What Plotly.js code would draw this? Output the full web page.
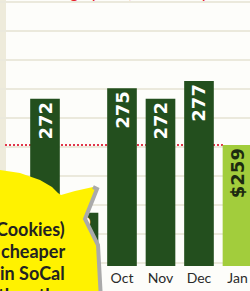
<!DOCTYPE html>
<html><head><meta charset="utf-8">
<script src="https://cdn.plot.ly/plotly-3.0.1.min.js"></script>
<style>html,body{margin:0;padding:0;background:#fdfdfa;}#chart{width:250px;height:291px;}</style>
</head><body><div id="chart"></div>
<script>
// Data
const months = ['Aug', 'Sep', 'Oct', 'Nov', 'Dec', 'Jan'];
const prices = [272, 240, 275, 272, 277, 259];
const currentPrice = 259;
const calloutLines = ['Cookies)', 'cheaper', 'in SoCal', 'than the'];
const titleText = 'Average price, in cents/pack';

const W = 250, H = 266; // plot area size in px (margins l=0,r=0,t=0,b=25)
const px = x => x / W;
const py = y => 1 - y / H;
function pathFrom(pts) {
  return 'M' + pts.map(p => px(p[0]).toFixed(4) + ',' + py(p[1]).toFixed(4)).join(' L') + ' Z';
}
function openPath(pts) {
  return 'M' + pts.map(p => px(p[0]).toFixed(4) + ',' + py(p[1]).toFixed(4)).join(' L');
}

const labels = prices.map((v, i) => (i === prices.length - 1 ? '$' + v : String(v)));
const colors = prices.map((v, i) => (i === prices.length - 1 ? '#a2cd3c' : '#234f1e'));
const textColors = prices.map((v, i) => (i === prices.length - 1 ? '#1c2a10' : '#ffffff'));

const trace = {
  type: 'bar',
  x: months,
  y: prices,
  text: labels,
  textposition: 'inside',
  insidetextanchor: 'end',
  textangle: -90,
  textfont: {family: 'DejaVu Sans', size: 18, color: textColors, weight: 'bold'},
  marker: {color: colors, line: {width: 0}},
  width: 0.77,
  hoverinfo: 'skip',
  cliponaxis: true
};

const bubble = [[-5,170],[0,170],[20,173],[40,180],[52,187],[58,193],[61,195],[75,191],[93,187],[97,189],[85,219],[98,245],[101,291],[101,300],[-5,300]];
const hatch = [[93,187],[97,189],[85,219],[98,245],[101,300]];

const annYs = [229, 251, 273, 295];
const annotations = calloutLines.map((t, i) => ({
  text: t, xref: 'paper', yref: 'paper', x: px(67), y: py(annYs[i]),
  xanchor: 'right', yanchor: 'middle', showarrow: false,
  font: {family: 'Lato', size: 18, color: '#222222', weight: 'bold'}
}));
annotations.push({
  text: titleText, xref: 'paper', yref: 'paper', x: px(132), y: py(4),
  xanchor: 'center', yanchor: 'bottom', showarrow: false,
  font: {family: 'Lato', size: 17, color: '#e8202e'}
});

const layout = {
  width: 250, height: 291,
  margin: {l: 0, r: 0, t: 0, b: 25, pad: 0, autoexpand: false},
  paper_bgcolor: '#fdfdfa',
  plot_bgcolor: '#fdfdfa',
  showlegend: false,
  bargap: 0.23,
  xaxis: {
    type: 'category',
    range: [-1.169, 5.325],
    automargin: false,
    showgrid: false, zeroline: false, showline: false,
    ticks: '', ticklen: 0, ticklabelstandoff: 2,
    tickfont: {family: 'Lato', size: 14, color: '#2a2a2a'},
    fixedrange: true
  },
  yaxis: {
    range: [225, 299.8],
    automargin: false,
    tick0: 234, dtick: 8.15,
    showticklabels: false, ticks: '',
    gridcolor: '#ebe9dc', gridwidth: 2,
    zeroline: false, showline: false,
    fixedrange: true
  },
  shapes: [
    {type: 'rect', xref: 'paper', yref: 'paper', x0: 0, x1: px(6), y0: py(291), y1: 1,
     fillcolor: '#eeebdb', line: {width: 0}, layer: 'between'},
    {type: 'line', xref: 'paper', yref: 'y', x0: px(5), x1: px(223), y0: currentPrice, y1: currentPrice,
     line: {color: '#e2364a', width: 2, dash: '2px,2px'}, layer: 'between'},
    {type: 'path', xref: 'paper', yref: 'paper', path: pathFrom(bubble),
     fillcolor: '#fff200', line: {width: 0}, layer: 'above'},
    {type: 'path', xref: 'paper', yref: 'paper', path: openPath(hatch),
     line: {color: '#aaaaaa', width: 4}, layer: 'above'}
  ],
  annotations: annotations
};

Plotly.newPlot('chart', [trace], layout, {displayModeBar: false, staticPlot: true});
</script></body></html>
